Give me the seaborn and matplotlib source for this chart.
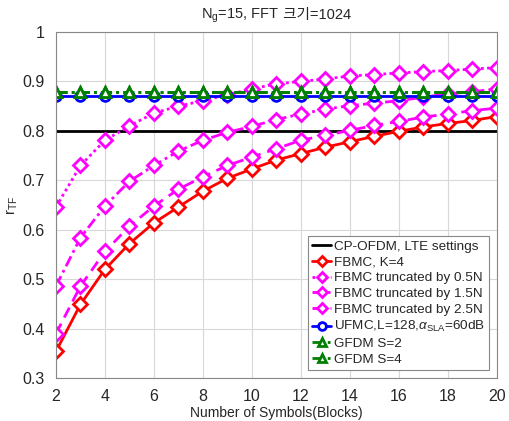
import numpy as np
import pandas as pd
import seaborn as sns
import matplotlib
matplotlib.use("Agg")
import matplotlib.pyplot as plt

# data
n_symbols = list(range(2, 21))
cp_ofdm = [0.80] * 19
fbmc_k4 = [0.354, 0.449, 0.520, 0.572, 0.614, 0.646, 0.678, 0.704, 0.723, 0.741, 0.754,
           0.767, 0.778, 0.789, 0.799, 0.808, 0.815, 0.821, 0.829]
fbmc_05n = [0.646, 0.730, 0.781, 0.810, 0.836, 0.850, 0.861, 0.873, 0.885, 0.895, 0.900,
            0.905, 0.911, 0.914, 0.917, 0.920, 0.922, 0.925, 0.928]
fbmc_15n = [0.486, 0.584, 0.648, 0.698, 0.730, 0.759, 0.781, 0.797, 0.809, 0.823, 0.834,
            0.844, 0.851, 0.856, 0.861, 0.868, 0.875, 0.879, 0.885]
fbmc_25n = [0.390, 0.486, 0.556, 0.607, 0.648, 0.682, 0.707, 0.730, 0.747, 0.764, 0.781,
            0.791, 0.801, 0.811, 0.819, 0.828, 0.834, 0.841, 0.846]
ufmc = [0.871] * 19
gfdm_s2 = [0.879] * 19
gfdm_s4 = [0.878] * 19

series = [
    ("CP-OFDM, LTE settings", cp_ofdm, "black", "-", None),
    ("FBMC, K=4", fbmc_k4, "red", "-", "D"),
    ("FBMC truncated by 0.5N", fbmc_05n, "magenta", (0, (1, 1.2)), "D"),
    ("FBMC truncated by 1.5N", fbmc_15n, "magenta", (0, (4, 1.5, 1, 1.5)), "D"),
    ("FBMC truncated by 2.5N", fbmc_25n, "magenta", (0, (4, 2.5)), "D"),
    (r"UFMC,L=128,$\alpha_{\mathrm{SLA}}$=60dB", ufmc, "blue", "-", "o"),
    ("GFDM S=2", gfdm_s2, "green", (0, (4, 1.5, 1, 1.5)), "^"),
    ("GFDM S=4", gfdm_s4, "green", (0, (4, 1.5, 1, 1.5)), "^"),
]

sns.set_theme(style="whitegrid")
plt.rcParams['font.family'] = ['Liberation Sans', 'Noto Sans CJK KR']
plt.rcParams['mathtext.fontset'] = 'custom'
plt.rcParams['mathtext.rm'] = 'Liberation Sans'
plt.rcParams['mathtext.it'] = 'Liberation Sans:italic'

fig, ax = plt.subplots(figsize=(5.09, 4.21), dpi=100)
fig.subplots_adjust(left=0.110, right=0.976, top=0.924, bottom=0.102)

for name, vals, color, ls, mk in series:
    df = pd.DataFrame({"N": n_symbols, "r": vals})
    sns.lineplot(data=df, x="N", y="r", ax=ax, color=color, linestyle=ls, linewidth=2,
                 marker=mk, markersize=7, markerfacecolor="white",
                 markeredgecolor=color, markeredgewidth=2, label=name)

ax.set_xlim(2, 20)
ax.set_ylim(0.3, 1.0)
ax.set_xticks(range(2, 21, 2))
ax.set_yticks(np.arange(0.3, 1.01, 0.1))
ax.set_yticklabels(["0.3", "0.4", "0.5", "0.6", "0.7", "0.8", "0.9", "1"])
ax.tick_params(labelsize=11.5, pad=2)
ax.grid(True, color="#d8d8d8", linewidth=0.8)
for sp in ax.spines.values():
    sp.set_color("#888888")
    sp.set_linewidth(0.8)

ax.set_xlabel("Number of Symbols(Blocks)", fontsize=10, labelpad=1)
ax.set_ylabel(r"r$_{\mathrm{TF}}$", fontsize=10.5, labelpad=2)

# title in two pieces: mathtext part (subscript) + Korean part (needs CJK font)
title_y = 1 - 19 / 421
t1 = fig.text(0, title_y, r"N$_{\mathrm{g}}$=15, FFT", fontsize=10.5, va="baseline", ha="left")
t2 = fig.text(0, title_y, " 크기=1024", fontsize=10.5, va="baseline", ha="left")
fig.canvas.draw()
r = fig.canvas.get_renderer()
w1 = t1.get_window_extent(r).width
w2 = t2.get_window_extent(r).width
fig_w = fig.get_figwidth() * fig.dpi
bb = ax.get_position()
cx = (bb.x0 + bb.x1) / 2 * fig_w
x1 = cx - (w1 + w2) / 2
t1.set_x(x1 / fig_w)
t2.set_x((x1 + w1) / fig_w)

leg = ax.legend(loc="lower right", fontsize=9.7, handlelength=1.4, handletextpad=0.2,
                borderpad=0.3, labelspacing=0.25, borderaxespad=0.6, fancybox=False,
                framealpha=1, markerscale=0.8)
leg.get_frame().set_edgecolor("#888888")
leg.get_frame().set_linewidth(0.8)

fig.savefig("out.png", dpi=100)
